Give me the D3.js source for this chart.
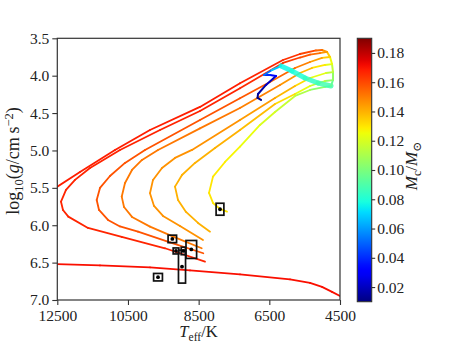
<!DOCTYPE html>
<html><head><meta charset="utf-8">
<script src="https://cdn.jsdelivr.net/npm/d3@7"></script>
<style>body{margin:0;background:#fff}svg{display:block}</style>
</head><body>
<svg id="c" width="457" height="343"></svg>
<script>
// ---------- data ----------
const xTicks = [12500, 10500, 8500, 6500, 4500];
const yTicks = [3.5, 4.0, 4.5, 5.0, 5.5, 6.0, 6.5, 7.0];
const cbTicks = [0.02, 0.04, 0.06, 0.08, 0.10, 0.12, 0.14, 0.16, 0.18];
const mcDomain = [0.01, 0.19];

// shared progenitor path: main sequence, subgiant band, red giant branch
const progT    = [6735, 6834, 6820, 6594, 6311, 6481, 6650, 6424, 6169, 5858, 5490, 5122, 4754, 4698, 4698, 4726, 4783, 4867, 5009, 5179];
const progLogg = [4.325, 4.298, 4.245, 4.124, 4.004, 3.991, 3.991, 3.924, 3.870, 3.937, 4.031, 4.098, 4.138, 4.058, 3.951, 3.844, 3.750, 3.683, 3.656, 3.663];
const progMc   = [0.010, 0.011, 0.013, 0.018, 0.024, 0.035, 0.045, 0.060, 0.075, 0.078, 0.082, 0.086, 0.090, 0.100, 0.110, 0.120, 0.130, 0.140, 0.150, 0.158];

// individual tracks (departure index in progenitor + own points)
const trackB_from = 20;
const trackB_T    = [5632, 6113, 7330, 8462, 9877, 10867, 11858, 12500, 12707];
const trackB_logg = [3.710, 3.790, 4.102, 4.418, 4.726, 4.993, 5.288, 5.484, 5.548];
const trackB_mc   = [0.163, 0.166, 0.168, 0.168, 0.168, 0.168, 0.168, 0.168, 0.168];

const trackC_from = 18;
const trackC_T    = [5066, 5349, 5632, 6113, 7330, 8462, 9594, 10726, 11575, 11999, 12254, 12395, 12339, 12189, 11631, 10677, 9452, 8320];
const trackC_logg = [3.697, 3.717, 3.757, 3.830, 4.168, 4.472, 4.726, 4.993, 5.234, 5.394, 5.528, 5.685, 5.796, 5.885, 6.036, 6.157, 6.308, 6.487];
const trackC_mc   = [0.150, 0.156, 0.160, 0.164, 0.167, 0.167, 0.167, 0.167, 0.167, 0.167, 0.167, 0.167, 0.167, 0.167, 0.167, 0.167, 0.167, 0.167];

const trackD_from = 17;
const trackD_T    = [5009, 5349, 5773, 6481, 7330, 8462, 10018, 10584, 11009, 11292, 11385, 11320, 11065, 10726, 10216, 9311, 8368];
const trackD_logg = [3.763, 3.817, 3.897, 4.084, 4.302, 4.592, 4.993, 5.167, 5.341, 5.501, 5.662, 5.796, 5.929, 6.016, 6.086, 6.228, 6.375];
const trackD_mc   = [0.140, 0.147, 0.152, 0.156, 0.158, 0.158, 0.158, 0.158, 0.158, 0.158, 0.158, 0.158, 0.158, 0.158, 0.158, 0.158, 0.158];

const trackE_from = 16;
const trackE_T    = [4924, 5292, 5632, 6198, 7330, 8462, 9650, 10103, 10386, 10584, 10677, 10612, 10386, 9877, 9169, 8413];
const trackE_logg = [3.857, 3.897, 3.964, 4.124, 4.432, 4.705, 4.993, 5.127, 5.261, 5.435, 5.618, 5.756, 5.889, 6.019, 6.163, 6.308];
const trackE_mc   = [0.125, 0.135, 0.142, 0.148, 0.151, 0.151, 0.151, 0.151, 0.151, 0.151, 0.151, 0.151, 0.151, 0.151, 0.151, 0.151];

const trackF_from = 15;
const trackF_T    = [4896, 5349, 5773, 6339, 7330, 8688, 9169, 9537, 9792, 9877, 9763, 9509, 9028, 8377];
const trackF_logg = [3.964, 4.031, 4.138, 4.298, 4.592, 4.993, 5.100, 5.234, 5.394, 5.572, 5.742, 5.876, 6.010, 6.197];
const trackF_mc   = [0.118, 0.128, 0.136, 0.142, 0.146, 0.146, 0.146, 0.146, 0.146, 0.146, 0.146, 0.146, 0.146, 0.146];

const trackG_from = 14;
const trackG_T    = [4924, 5349, 5773, 6339, 7330, 8037, 8603, 8971, 9169, 9084, 8858, 8518, 8178];
const trackG_logg = [4.071, 4.138, 4.245, 4.378, 4.726, 4.967, 5.167, 5.328, 5.484, 5.662, 5.822, 5.969, 6.086];
const trackG_mc   = [0.110, 0.120, 0.128, 0.135, 0.140, 0.140, 0.140, 0.140, 0.140, 0.140, 0.140, 0.140, 0.140];

const trackH_from = 13;
const trackH_T    = [4924, 5349, 5773, 6339, 6764, 7330, 7754, 8094, 8207, 8094, 7896, 7697];
const trackH_logg = [4.151, 4.191, 4.271, 4.485, 4.659, 4.949, 5.154, 5.350, 5.568, 5.702, 5.782, 5.818];
const trackH_mc   = [0.100, 0.108, 0.114, 0.118, 0.122, 0.126, 0.128, 0.130, 0.130, 0.130, 0.130, 0.130];

// lower, nearly horizontal track
const trackA_T    = [12700, 11292, 9877, 8745, 7330, 5915, 5349, 5009, 4726, 4500];
const trackA_logg = [6.517, 6.538, 6.564, 6.605, 6.658, 6.725, 6.772, 6.825, 6.892, 6.946];
const trackA_mc   = [0.171, 0.171, 0.171, 0.171, 0.171, 0.171, 0.171, 0.171, 0.171, 0.171];

// observed stars with error boxes
const obsT       = [7896, 9245, 9141, 8971, 8934, 8708, 9650];
const obsLogg    = [5.786, 6.183, 6.344, 6.554, 6.344, 6.324, 6.695];
const obsErrT    = [110, 120, 80, 100, 60, 150, 125];
const obsErrLogg = [0.08, 0.05, 0.04, 0.22, 0.05, 0.12, 0.05];

// ---------- chart ----------
const svg = d3.select("#c");
const FONT = "'Liberation Serif', 'DejaVu Serif', serif";
const L = 57.3, R = 340, T0 = 38.3, B0 = 300;
const x = d3.scaleLinear().domain([12500, 4500]).range([L, R]);
const y = d3.scaleLinear().domain([3.5, 7.0]).range([T0, B0]);
const cb = d3.scaleLinear().domain(mcDomain).range([301.7, 38.3]);

// jet colormap (matplotlib segment data)
const jr = d3.scaleLinear().domain([0, 0.35, 0.66, 0.89, 1]).range([0, 0, 1, 1, 0.5]).clamp(true);
const jg = d3.scaleLinear().domain([0, 0.125, 0.375, 0.64, 0.91, 1]).range([0, 0, 1, 1, 0, 0]).clamp(true);
const jb = d3.scaleLinear().domain([0, 0.11, 0.34, 0.65, 1]).range([0.5, 1, 1, 0, 0]).clamp(true);
const norm = d3.scaleLinear().domain(mcDomain).range([0, 1]).clamp(true);
function jet(v) { const t = norm(v); return d3.rgb(255 * jr(t), 255 * jg(t), 255 * jb(t)).toString(); }

svg.append("defs").append("clipPath").attr("id", "clip")
  .append("rect").attr("x", L).attr("y", T0).attr("width", R - L).attr("height", B0 - T0);

const gT = svg.append("g").attr("clip-path", "url(#clip)");

function pts(Ts, gs, ms) { return Ts.map((t, i) => ({ T: t, g: gs[i], m: ms[i] })); }
function seg(g, a, b, w, op) {
  g.append("line")
    .attr("x1", x(a.T)).attr("y1", y(a.g)).attr("x2", x(b.T)).attr("y2", y(b.g))
    .attr("stroke", jet((a.m + b.m) / 2)).attr("stroke-width", w)
    .attr("stroke-opacity", op || 1)
    .attr("stroke-linecap", "round");
}
function drawPts(g, p, w) { for (let i = 0; i < p.length - 1; i++) seg(g, p[i], p[i + 1], w); }

const prog = pts(progT, progLogg, progMc);
const tracks = [
  [trackB_from, trackB_T, trackB_logg, trackB_mc],
  [trackC_from, trackC_T, trackC_logg, trackC_mc],
  [trackD_from, trackD_T, trackD_logg, trackD_mc],
  [trackE_from, trackE_T, trackE_logg, trackE_mc],
  [trackF_from, trackF_T, trackF_logg, trackF_mc],
  [trackG_from, trackG_T, trackG_logg, trackG_mc],
  [trackH_from, trackH_T, trackH_logg, trackH_mc]
];

drawPts(gT, pts(trackA_T, trackA_logg, trackA_mc), 1.8);
tracks.forEach(([from, Ts, gs, ms]) => {
  const own = pts(Ts, gs, ms);
  drawPts(gT, [prog[from - 1]].concat(own), 1.8);
});
// progenitor on top: thin MS, ribbon for the sub-giant band, RGB
for (let i = 0; i < prog.length - 1; i++) {
  const band = (i >= 8 && i < 12);
  seg(gT, prog[i], prog[i + 1], band ? 5 : 2, band ? 0.85 : 1);
}

// error boxes
const gO = svg.append("g");
obsT.forEach((t, i) => {
  const x1 = x(t + obsErrT[i]), x2 = x(t - obsErrT[i]);
  const y1 = y(obsLogg[i] - obsErrLogg[i]), y2 = y(obsLogg[i] + obsErrLogg[i]);
  gO.append("rect").attr("x", x1).attr("y", y1).attr("width", x2 - x1).attr("height", y2 - y1)
    .attr("fill", "none").attr("stroke", "#111").attr("stroke-width", 1.7);
  gO.append("circle").attr("cx", x(t)).attr("cy", y(obsLogg[i])).attr("r", 1.9).attr("fill", "#000");
});

// frame
svg.append("rect").attr("x", L).attr("y", T0).attr("width", R - L).attr("height", B0 - T0)
  .attr("fill", "none").attr("stroke", "#333").attr("stroke-width", 1.2);

// axes
const xAx = svg.append("g").attr("transform", `translate(0,${B0})`)
  .call(d3.axisBottom(x).tickValues(xTicks).tickFormat(d3.format("d")).tickSize(5).tickSizeOuter(0).tickPadding(5));
const yAx = svg.append("g").attr("transform", `translate(${L},0)`)
  .call(d3.axisLeft(y).tickValues(yTicks).tickFormat(d3.format(".1f")).tickSize(5).tickSizeOuter(0).tickPadding(3));
[xAx, yAx].forEach(a => {
  a.select(".domain").remove();
  a.selectAll("line").attr("stroke", "#333").attr("stroke-width", 1.1);
  a.selectAll("text").attr("font-family", FONT).attr("font-size", 15.5).attr("fill", "#222");
});

// colorbar
const CBX = 357.3, CBW = 14.4;
const grad = svg.select("defs").append("linearGradient").attr("id", "jetg")
  .attr("x1", 0).attr("y1", 1).attr("x2", 0).attr("y2", 0);
d3.range(0, 1.0001, 0.02).forEach(t => {
  grad.append("stop").attr("offset", t).attr("stop-color", jet(mcDomain[0] + t * (mcDomain[1] - mcDomain[0])));
});
svg.append("rect").attr("x", CBX).attr("y", cb(mcDomain[1])).attr("width", CBW)
  .attr("height", cb(mcDomain[0]) - cb(mcDomain[1])).attr("fill", "url(#jetg)")
  .attr("stroke", "#333").attr("stroke-width", 1.1);
const cAx = svg.append("g").attr("transform", `translate(${CBX + CBW},0)`)
  .call(d3.axisRight(cb).tickValues(cbTicks).tickFormat(d3.format(".2f")).tickSize(3.5).tickSizeOuter(0).tickPadding(2));
cAx.select(".domain").remove();
cAx.selectAll("line").attr("stroke", "#333").attr("stroke-width", 1.1);
cAx.selectAll("text").attr("font-family", FONT).attr("font-size", 15.5).attr("fill", "#222");

// rich text helper
function rich(sel, parts) {
  let shift = 0;
  parts.forEach(([t, st]) => {
    const ts = sel.append("tspan").text(t);
    let target = 0;
    if (st.indexOf("sub") >= 0) target = 4;
    else if (st.indexOf("sup") >= 0) target = -6;
    ts.attr("dy", target - shift); shift = target;
    if (target !== 0) ts.attr("font-size", "70%");
    if (st.indexOf("it") >= 0) ts.attr("font-style", "italic");
  });
}

// x label
const xl = svg.append("text").attr("x", 198.5).attr("y", 337).attr("text-anchor", "middle")
  .attr("font-family", FONT).attr("font-size", 16.5).attr("fill", "#222");
rich(xl, [["T", ["it"]], ["eff", ["sub"]], ["/K", []]]);

// y label
const yl = svg.append("text").attr("transform", "translate(18.5,161) rotate(-90)")
  .attr("text-anchor", "middle").attr("font-family", FONT).attr("font-size", 18).attr("fill", "#222");
rich(yl, [["log", []], ["10", ["sub"]], ["(", []], ["g", ["it"]], ["/cm\u2009s", []], ["\u22122", ["sup"]], [")", []]]);

// colorbar label
const cl = svg.append("text").attr("transform", "translate(417,166) rotate(-90)")
  .attr("text-anchor", "middle").attr("font-family", FONT).attr("font-size", 17).attr("fill", "#222");
rich(cl, [["M", ["it"]], ["c", ["sub"]], ["/", []], ["M", ["it"]], ["\u2299", ["sub"]]]);
</script>
</body></html>
